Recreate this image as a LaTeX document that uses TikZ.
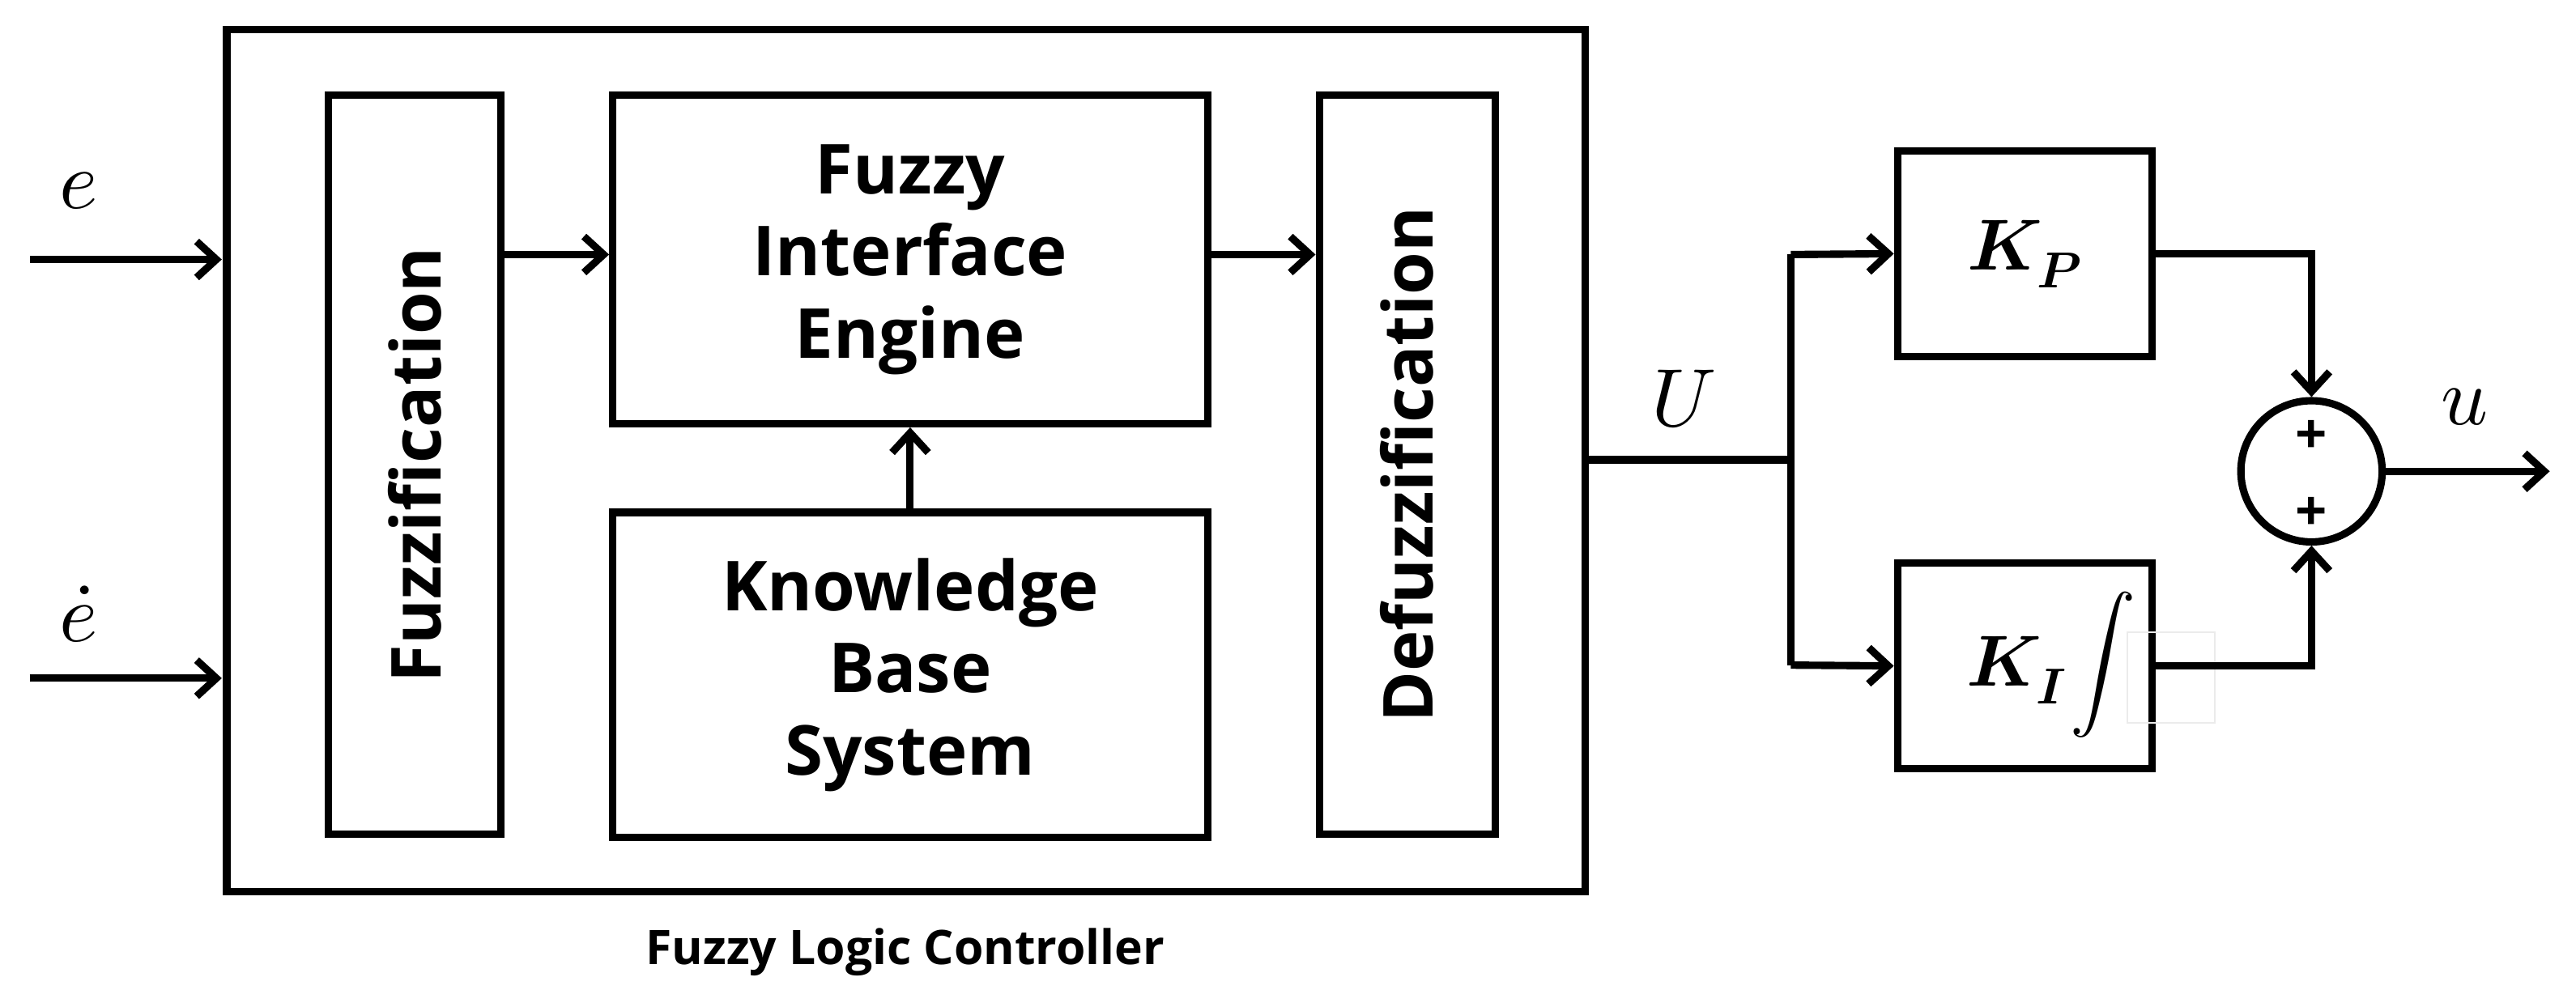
\documentclass[tikz,border=0pt]{standalone}
\usepackage{fontspec}
\setmainfont{Open Sans}
\usepackage{unicode-math}
\usetikzlibrary{arrows.meta}
\begin{document}
\begin{tikzpicture}[x=1pt,y=-1pt,
  box/.style={draw,line width=4.5pt},
  lbl/.style={font=\fontsize{42}{50}\selectfont\bfseries,align=center},
  ln/.style={line width=4.5pt},
  ar/.style={line width=4.5pt,-{Straight Barb[length=12pt,width=22pt,line width=4.5pt]}},
  mth/.style={font=\fontsize{50}{56}\selectfont}]
\useasboundingbox (0,0) rectangle (1568,613);
\draw[box] (138,18) rectangle (965,543);
\node[box,minimum width=105pt,minimum height=450pt] (fz) at (252.5,283) {};
\node[lbl,rotate=90] at (fz) {Fuzzification};
\node[box,minimum width=362pt,minimum height=200pt,lbl] (fie) at (554,158) {Fuzzy\\Interface\\Engine};
\node[box,minimum width=362pt,minimum height=198pt,lbl] (kb) at (554,411) {Knowledge\\Base\\System};
\node[box,minimum width=107pt,minimum height=450pt] (df) at (856.5,283) {};
\node[lbl,rotate=90] at (df) {Defuzzification};
\node[font=\fontsize{29}{34}\selectfont\bfseries] (flc) at (551,580) {Fuzzy Logic Controller};
\coordinate (ein) at (18,158); \coordinate (edin) at (18,413);
\draw[ar] (ein) -- (135,158);
\draw[ar] (edin) -- (135,413);
\node[mth] (el) at (48,116) {$e$};
\node[mth] (edl) at (48,374) {$\dot e$};
\draw[ar] (305,155) -- (fie.west |- 0,155);
\draw[ar] (735,155) -- (df.west |- 0,155);
\draw[ar] (kb.north) -- (fie.south);
\coordinate (fo) at (965,280); \coordinate (br) at (1090,280);
\draw[ln] (fo) -- (br);
\node[mth] (Ul) at (1025,243) {$U$};
\node[box,minimum width=155pt,minimum height=125pt,mth,font=\fontsize{44}{50}\selectfont] (kp) at (1232.5,154.5) {$\symbfit{K}_{\symbfit{P}}$};
\node[box,minimum width=155pt,minimum height=125pt] (ki) at (1232.5,405.5) {};
\node[font=\fontsize{44}{50}\selectfont,anchor=east] (kil) at (1262,408) {$\symbfit{K}_{\symbfit{I}}$};
\node[font=\fontsize{40}{50}\selectfont,inner sep=0pt] (int) at (1280,405) {$\displaystyle\int$};
\draw[draw=black!8,line width=1pt] (1295,385) rectangle (1348,440);
\draw[ln] (1090,155) -- (1090,405);
\draw[ar] (1090,155) -- (kp.west);
\draw[ar] (1090,405) -- (ki.west);
\node[draw,circle,line width=4.5pt,minimum size=86pt] (s) at (1407,287) {};
\node[font=\fontsize{34}{34}\selectfont\bfseries] at (1407,266) {+};
\node[font=\fontsize{34}{34}\selectfont\bfseries] at (1407,313) {+};
\draw[ar] (kp.east) -| (s.north);
\draw[ar] (ki.east) -| (s.south);
\coordinate (out) at (1552,287);
\draw[ar] (s.east) -- (out);
\node[mth] (ul) at (1500,248) {$u$};
\end{tikzpicture}
\end{document}
